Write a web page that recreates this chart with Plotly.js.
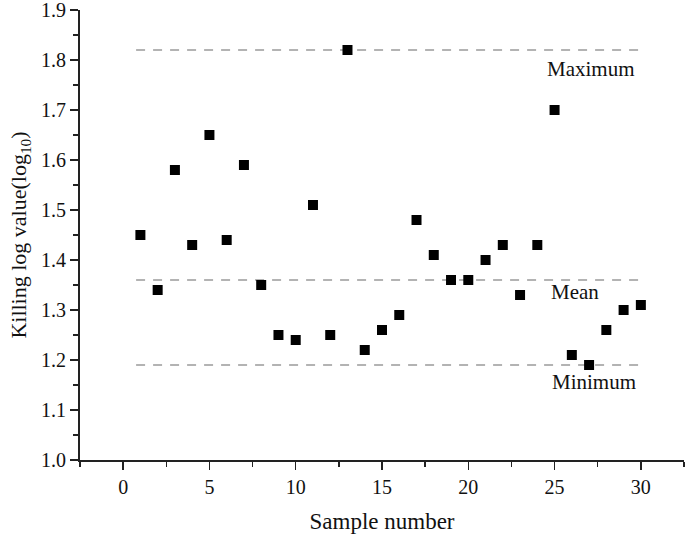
<!DOCTYPE html>
<html>
<head>
<meta charset="utf-8">
<script src="https://cdn.plot.ly/plotly-3.0.1.min.js"></script>
<style>html,body{margin:0;padding:0;background:#fff;}</style>
</head>
<body>
<div id="chart" style="width:685px;height:536px;"></div>
<script>
const sampleNumbers = [1,2,3,4,5,6,7,8,9,10,11,12,13,14,15,16,17,18,19,20,21,22,23,24,25,26,27,28,29,30];
const killingLogValues = [1.45,1.34,1.58,1.43,1.65,1.44,1.59,1.35,1.25,1.24,1.51,1.25,1.82,1.22,1.26,1.29,1.48,1.41,1.36,1.36,1.40,1.43,1.33,1.43,1.70,1.21,1.19,1.26,1.30,1.31];
const refNames = ["Maximum", "Mean", "Minimum"];
const refValues = [1.82, 1.36, 1.19];
const refLineX = [0.75, 30.3];
const labelX = [27.1, 26.2, 27.3];
const labelY = [1.782, 1.336, 1.156];

const font = "'Liberation Serif', 'Times New Roman', serif";
const traces = [];
refValues.forEach((v) => {
  traces.push({
    x: refLineX, y: [v, v], mode: 'lines', type: 'scatter',
    line: {color: '#9a9a9a', width: 1.5, dash: '9px,8px'},
    hoverinfo: 'skip', showlegend: false
  });
});
traces.push({
  x: sampleNumbers, y: killingLogValues, mode: 'markers', type: 'scatter',
  marker: {symbol: 'square', size: 10, color: '#000'},
  showlegend: false
});

const annotations = refNames.map((n, i) => ({
  x: labelX[i], y: labelY[i], xref: 'x', yref: 'y', text: n,
  showarrow: false, font: {family: font, size: 21, color: '#111'}
}));

const layout = {
  width: 685, height: 536,
  margin: {l: 80, r: 1, t: 10, b: 76},
  paper_bgcolor: '#fff', plot_bgcolor: '#fff',
  font: {family: font, color: '#111'},
  xaxis: {
    range: [-2.5, 32.5], dtick: 5, tick0: 0,
    showgrid: false, zeroline: false,
    showline: true, linecolor: '#222', linewidth: 2,
    ticks: 'outside', ticklen: 8, tickwidth: 1.5, tickcolor: '#222',
    ticklabeloverflow: 'allow',
    minor: {dtick: 2.5, tick0: 0, ticks: 'outside', ticklen: 5, tickwidth: 1.5, tickcolor: '#222', showgrid: false},
    tickfont: {family: font, size: 20, color: '#111'},
    title: {text: 'Sample number', font: {family: font, size: 23, color: '#111'}, standoff: 16}
  },
  yaxis: {
    range: [1.0, 1.9], dtick: 0.1, tick0: 1.0, tickformat: '.1f',
    showgrid: false, zeroline: false,
    showline: true, linecolor: '#222', linewidth: 2,
    ticks: 'outside', ticklen: 8, tickwidth: 1.5, tickcolor: '#222',
    ticklabeloverflow: 'allow',
    minor: {dtick: 0.05, tick0: 1.0, ticks: 'outside', ticklen: 5, tickwidth: 1.5, tickcolor: '#222', showgrid: false},
    tickfont: {family: font, size: 20, color: '#111'},
    title: {text: 'Killing log value(log<sub>10</sub>)', font: {family: font, size: 22, color: '#111'}, standoff: 8}
  },
  annotations: annotations
};

Plotly.newPlot('chart', traces, layout, {displayModeBar: false, staticPlot: true});
</script>
</body>
</html>
